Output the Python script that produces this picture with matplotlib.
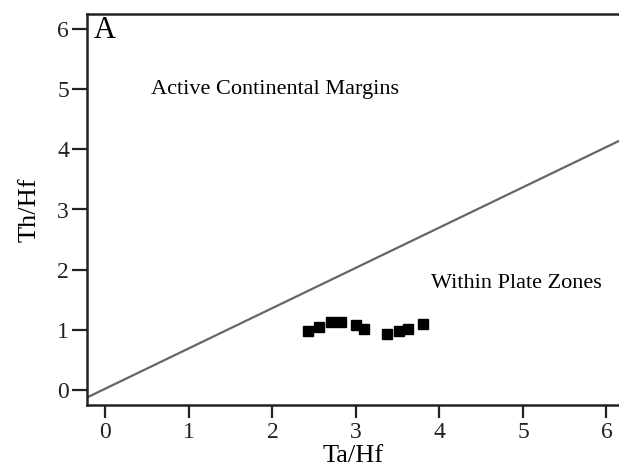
import numpy as np
import matplotlib.pyplot as plt

plt.rcParams['font.family'] = ['Liberation Serif', 'DejaVu Serif']

# sample points (Ta/Hf, Th/Hf)
ta_hf = [2.43, 2.56, 2.70, 2.82, 3.00, 3.10, 3.37, 3.52, 3.62, 3.80]
th_hf = [0.98, 1.05, 1.13, 1.13, 1.08, 1.01, 0.93, 0.98, 1.01, 1.10]

# boundary line between fields
bound_x = [-0.22, 6.15]
bound_y = [-0.125, 4.14]

xticks = [0, 1, 2, 3, 4, 5, 6]
yticks = [0, 1, 2, 3, 4, 5, 6]

fig = plt.figure(figsize=(6.19, 4.69), dpi=100)
ax = fig.add_axes([87 / 619, 1 - 405 / 469, 1 - 87 / 619, (405 - 14) / 469])

ax.plot(bound_x, bound_y, color='#666666', lw=1.6)
ax.plot(ta_hf, th_hf, ls='none', marker='s', ms=6.5, color='black')

ax.set_xlim(-0.22, 6.15)
ax.set_ylim(-0.25, 6.25)
ax.set_xticks(xticks)
ax.set_yticks(yticks)
ax.tick_params(direction='out', width=1.6, labelsize=17, colors='#222222')
ax.tick_params(axis='x', length=9, pad=3)
ax.tick_params(axis='y', length=11, pad=2)

for s in ['left', 'bottom', 'top']:
    ax.spines[s].set_linewidth(1.8)
    ax.spines[s].set_color('#222222')
ax.spines['right'].set_visible(False)

ax.set_xlabel('Ta/Hf', fontsize=19, labelpad=2)
ax.set_ylabel('Th/Hf', fontsize=19, labelpad=12)

ax.text(-0.14, 5.97, 'A', fontsize=22, va='center', ha='left')
ax.text(0.55, 5.0, 'Active Continental Margins', fontsize=16, va='center')
ax.text(3.9, 1.77, 'Within Plate Zones', fontsize=16, va='center')

fig.savefig('out.png', dpi=100)
